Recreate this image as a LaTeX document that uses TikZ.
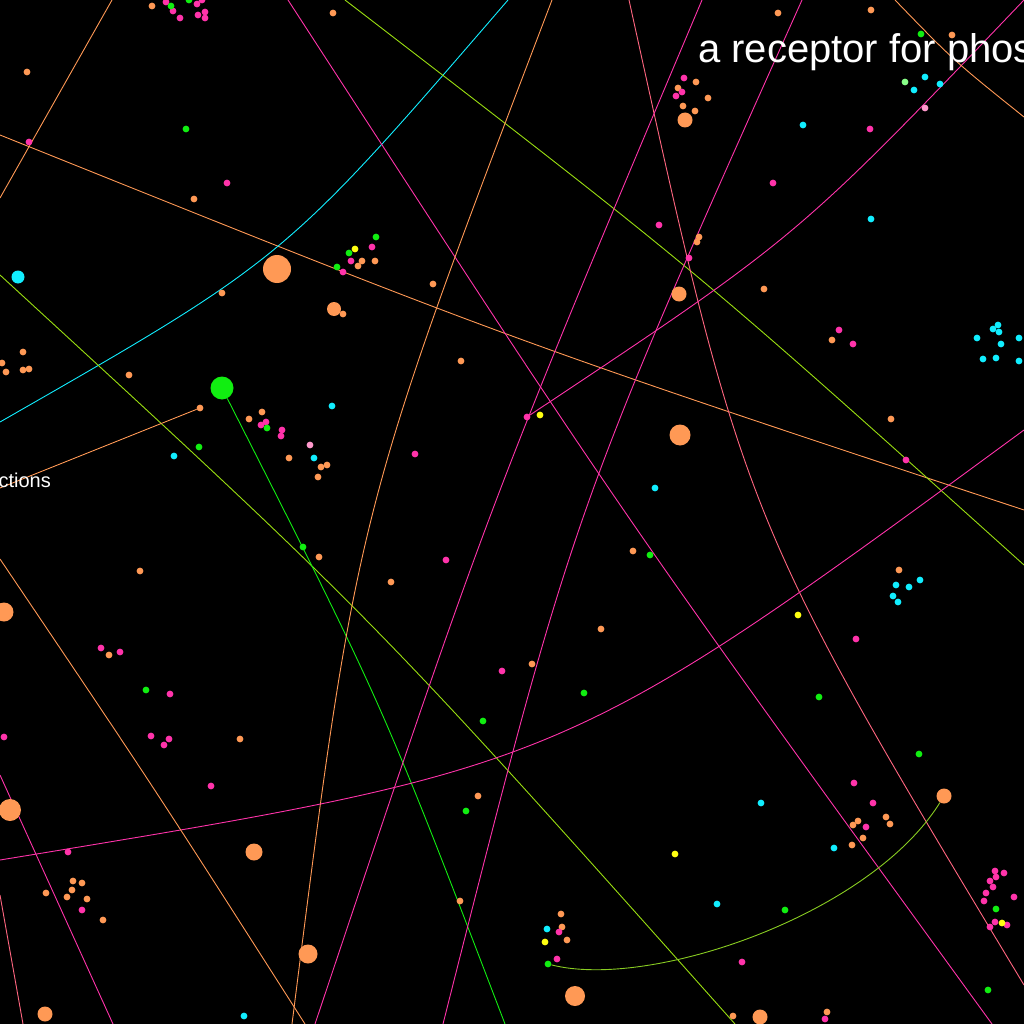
\documentclass[tikz,border=0pt]{standalone}
\usepackage{fontspec}
\setmainfont{Liberation Sans}
\usetikzlibrary{calc}
\pgfdeclarelayer{bg}
\pgfsetlayers{bg,main}
\definecolor{cO}{HTML}{FF9955}
\definecolor{cP}{HTML}{FF33AA}
\definecolor{cG}{HTML}{11EE11}
\definecolor{cC}{HTML}{11EEFF}
\definecolor{cY}{HTML}{FFFF11}
\definecolor{cS}{HTML}{FF6680}
\definecolor{cL}{HTML}{99DD11}
\definecolor{cT}{HTML}{88CC22}
\definecolor{cPP}{HTML}{FF99CC}
\definecolor{cPG}{HTML}{88FF88}
\newcommand\thru[4][]{\draw[#1] (#2) .. controls ($1.33333*(#3)-0.166667*(#2)-0.166667*(#4)$) .. (#4);}
\tikzset{
  sdot/.style={circle,inner sep=0pt,minimum size=6.8pt,draw=none},
  bdot/.style={circle,inner sep=0pt,draw=none},
  edge/.style={line width=0.9pt},
}
\begin{document}
\begin{tikzpicture}[x=1pt,y=-1pt]
\useasboundingbox (0,0) rectangle (1024,1024);
\begin{scope}
\clip (0,0) rectangle (1024,1024);
% named nodes used by connectors
\node[bdot,fill=cG,minimum size=23pt] (gbig) at (222,388) {};
\node[sdot,fill=cO] (gEnd) at (200,408) {};
\node[sdot,fill=cP] (pN) at (527,417) {};
\node[sdot,fill=cG] (gT) at (548,964) {};
\node[bdot,fill=cO,minimum size=15pt] (oT) at (944,796) {};
% big orange
\foreach \p/\s [count=\i] in {(277,269)/28,(334,309)/14,(685,120)/15,(679,294)/15,(680,435)/21,(4,612)/19,(10,810)/22,(254,852)/17,(308,954)/19,(45,1014)/15,(575,996)/20,(760,1017)/15}
  \node[bdot,fill=cO,minimum size=\s pt] (bo\i) at \p {};
\node[bdot,fill=cC,minimum size=13pt] (bc) at (18,277) {};
% small orange
\foreach \p [count=\i] in {(152,6),(333,13),(27,72),(194,199),(362,261),(358,266),(375,261),(433,284),(222,293),(343,314),(461,361),(23,352),(2,363),(6,372),(23,370),(29,369),(129,375),(262,412),(249,419),(289,458),(327,465),(321,467),(318,477),(778,13),(871,10),(952,35),(696,82),(678,88),(708,98),(683,106),(695,111),(699,237),(697,242),(764,289),(832,340),(891,419),(319,557),(140,571),(391,582),(109,655),(240,739),(478,796),(73,881),(82,883),(72,890),(46,893),(67,897),(87,899),(103,920),(460,901),(633,551),(601,629),(532,664),(899,570),(886,817),(890,824),(858,821),(853,825),(863,838),(852,845),(561,914),(562,927),(567,940),(733,1016),(827,1012)}
  \node[sdot,fill=cO] (so\i) at \p {};
% small pink
\foreach \p [count=\i] in {(166,2),(173,11),(180,18),(197,4),(202,0),(205,12),(198,15),(205,18),(29,142),(227,183),(372,247),(351,261),(343,272),(266,422),(261,425),(282,430),(281,436),(415,454),(684,78),(682,92),(676,96),(870,129),(773,183),(659,225),(689,258),(839,330),(853,344),(906,460),(446,560),(101,648),(120,652),(502,671),(170,694),(4,737),(151,736),(169,739),(164,745),(211,786),(68,852),(82,910),(856,639),(854,783),(873,803),(866,827),(995,871),(1004,873),(996,877),(990,881),(993,887),(986,893),(984,901),(1014,897),(995,922),(1007,925),(990,927),(559,932),(557,959),(742,962),(825,1019)}
  \node[sdot,fill=cP] (sp\i) at \p {};
% small green
\foreach \p [count=\i] in {(171,6),(189,0),(186,129),(376,237),(349,253),(337,267),(267,428),(199,447),(921,34),(303,547),(146,690),(483,721),(466,811),(650,555),(584,693),(819,697),(919,754),(785,910),(996,909),(988,990)}
  \node[sdot,fill=cG] (sg\i) at \p {};
% small cyan
\foreach \p [count=\i] in {(332,406),(174,456),(314,458),(925,77),(914,90),(940,84),(803,125),(871,219),(998,325),(993,329),(999,332),(977,338),(1001,344),(1019,338),(983,359),(996,358),(1019,361),(655,488),(244,1016),(920,580),(896,585),(909,587),(893,596),(898,602),(834,848),(761,803),(717,904),(547,929)}
  \node[sdot,fill=cC] (sc\i) at \p {};
% small yellow
\foreach \p [count=\i] in {(355,249),(540,415),(798,615),(675,854),(1002,923),(545,942)}
  \node[sdot,fill=cY] (sy\i) at \p {};
\node[sdot,fill=cPP] (pp1) at (310,445) {};
\node[sdot,fill=cPP] (pp2) at (925,108) {};
\node[sdot,fill=cPG] (pg1) at (905,82) {};
% texts
\node[text=white,font=\fontsize{40}{46}\selectfont,anchor=base west,inner sep=0pt] (title) at (698,63) {a receptor for phos};
\node[text=white,font=\fontsize{20}{24}\selectfont,anchor=base east,inner sep=0pt] (lbl) at (51,487) {ctions};
\end{scope}
\begin{pgfonlayer}{bg}
\begin{scope}
\clip (0,0) rectangle (1024,1024);
\fill[black] (-5,-5) rectangle (1030,1030);
\coordinate (A1) at (112,0); \coordinate (A2) at (0,198);
\draw[edge,cO] (A1) -- (A2);
\thru[edge,cO]{0,135}{512,336}{1024,510}
\thru[edge,cC]{0,422}{277,247}{508,0}
\thru[edge,cL]{345,0}{693,273}{1024,565}
\thru[edge,cL]{0,275}{372,626}{735,1024}
\thru[edge,cG]{gbig}{378,705}{505,1024}
\coordinate (G1) at (0,488);
\draw[edge,cO] (G1) -- (gEnd);
\thru[edge,cP]{288,0}{625,512}{992,1024}
\thru[edge,cO]{552,0}{373,512}{292,1024}
\thru[edge,cS]{629,0}{764,512}{1024,985}
\thru[edge,cP]{702,0}{494,506}{315,1024}
\thru[edge,cP]{802,0}{585,512}{443,1024}
\thru[edge,cP]{pN}{792,230}{1024,0}
\thru[edge,cP]{0,860}{551,737}{1024,430}
\coordinate (Q1) at (0,775); \coordinate (Q2) at (113,1024);
\draw[edge,cP] (Q1) -- (Q2);
\coordinate (R1) at (0,895); \coordinate (R2) at (23,1024);
\draw[edge,cS] (R1) -- (R2);
\thru[edge,cO]{0,559}{154,789}{305,1024}
\draw[edge,cT] (gT) .. controls (650,990) and (870,915) .. (oT);
\thru[edge,cO]{895,0}{955,60}{1024,117}
\end{scope}
\end{pgfonlayer}
\end{tikzpicture}
\end{document}
